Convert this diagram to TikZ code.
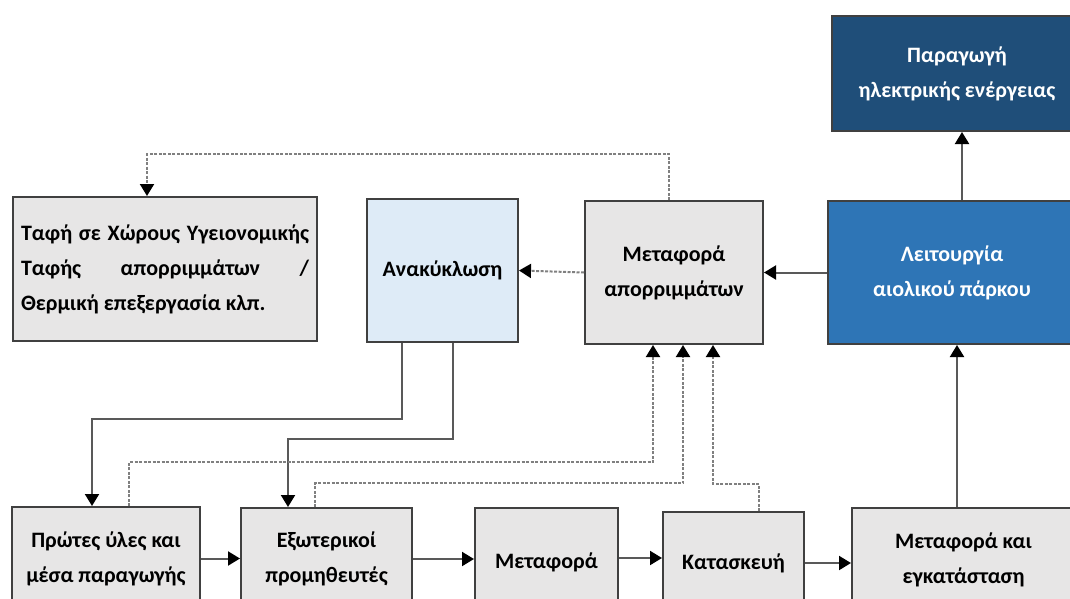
\documentclass[tikz,border=0pt]{standalone}
\usepackage{fontspec}
\setmainfont{Carlito}
\usepackage{xcolor}
\usepackage{tikz}
\usetikzlibrary{positioning}
\usetikzlibrary{arrows.meta}
\definecolor{boxgray}{RGB}{231,230,230}
\definecolor{boxlight}{RGB}{222,235,247}
\definecolor{boxblue}{RGB}{46,117,182}
\definecolor{boxdark}{RGB}{31,78,121}
\tikzstyle{box}=[draw=black!75,line width=1pt,inner sep=0pt,align=center,font=\fontsize{11}{17.5}\selectfont\bfseries]
\tikzstyle{graybox}=[box,fill=boxgray]
\tikzstyle{lightbox}=[box,fill=boxlight]
\tikzstyle{bluebox}=[box,fill=boxblue,text=white]
\tikzstyle{darkbox}=[box,fill=boxdark,text=white]
\tikzstyle{edge} = [draw,line width=1pt,black!65,-{Triangle[length=6pt,width=7pt,black]}]
\tikzstyle{dashedge} = [draw,line width=1pt,black!50,dash pattern=on 1.5pt off 0.75pt,-{Triangle[length=6pt,width=7pt,black]}]

\begin{document}
\begin{tikzpicture}[x=0.5pt,y=-0.5pt]

\clip (0,0) rectangle (1070,599);
\fill[white] (0,0) rectangle (1070,599);

%top row
\node[darkbox,minimum width=125pt,minimum height=57.5pt] (parag) at (957,73.5) {Παραγωγή\\ηλεκτρικής ενέργειας};

%middle row
\node[graybox,minimum width=152pt,minimum height=72pt,text width=144pt,align=justify] (taf) at (165,269)
    {Ταφή σε Χώρους Υγειονομικής\linebreak Ταφής απορριμμάτων /\linebreak Θερμική επεξεργασία κλπ.};
\node[lightbox,minimum width=75.5pt,minimum height=71.5pt] (anak) at (442.5,270.5) {Ανακύκλωση};
\node[graybox,minimum width=89pt,minimum height=71.5pt] (metap) at (674,272.5) {Μεταφορά\\απορριμμάτων};
\node[bluebox,minimum width=124pt,minimum height=71.5pt] (leit) at (952,272.5) {Λειτουργία\\αιολικού πάρκου};

%bottom row
    \foreach \pos/\name/\w/\h/\label in {{(106,558.5)/protes/94/51.5/{Πρώτες ύλες και\\μέσα παραγωγής}},
        {(326.5,559)/exot/85.5/51/{Εξωτερικοί\\προμηθευτές}}, {(546.5,562)/metaf/71.5/54/{Μεταφορά}},
        {(733.5,563)/katask/70.5/51/{Κατασκευή}}, {(963.5,560)/metkai/111.5/52/{Μεταφορά και\\εγκατάσταση}}}
        \node[graybox,minimum width=\w pt,minimum height=\h pt] (\name) at \pos {\label};

% main flow
	\foreach \source/ \dest in {protes/exot, exot/metaf, katask/metkai}
		\path[edge] (\source.east) -- (\source.east -| \dest.west);
	\path[edge] (metaf.east |- 0,558) -- (katask.west |- 0,558);
	\path[edge] (metkai.north -| 957,0) -- (leit.south -| 957,0);
	\path[edge] (leit.north -| 962,0) -- (parag.south -| 962,0);
	\path[edge] (leit.west) -- (metap.east);

% recycling back to the start
	\path[edge] (anak.south -| 402,0) |- (92,419) -- (protes.north -| 92,0);
	\path[edge] (anak.south -| 453,0) |- (288,439) -- (exot.north -| 288,0);

% waste
	\path[dashedge] (metap.west) -- (anak.east);
	\path[dashedge] (metap.north -| 669,0) |- (147,154) -- (taf.north -| 147,0);
	\path[dashedge] (protes.north -| 129,0) |- (653,462) -- (metap.south -| 653,0);
	\path[dashedge] (exot.north -| 315,0) |- (683,483) -- (metap.south -| 683,0);
	\path[dashedge] (katask.north -| 759,0) |- (713,484) -- (metap.south -| 713,0);

\end{tikzpicture}
\end{document}
